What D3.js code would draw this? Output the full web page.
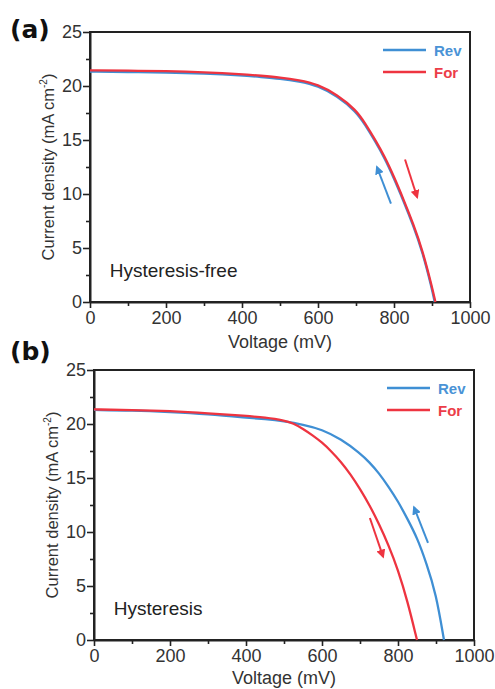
<!DOCTYPE html>
<html>
<head>
<meta charset="utf-8">
<script src="https://cdn.jsdelivr.net/npm/d3@7"></script>
<style>
  body { margin: 0; background: #fff; }
  text { font-family: "Liberation Sans", Arial, sans-serif; }
</style>
</head>
<body>
<script>
// ---- data ----
var voltageA = [0, 100, 200, 300, 400, 450, 500, 550, 600, 650, 700, 725, 750, 775, 800, 825, 850, 875, 900];
var revA = [21.33, 21.3, 21.26, 21.16, 20.98, 20.83, 20.68, 20.43, 20.02, 19.07, 17.65, 16.35, 14.9, 13.35, 11.45, 9.35, 7.15, 4.65, 1.2];
var forA = [21.45, 21.42, 21.38, 21.28, 21.1, 20.95, 20.8, 20.55, 20.15, 19.2, 17.8, 16.5, 15.05, 13.5, 11.6, 9.5, 7.3, 4.8, 1.4];
var vocA = [907, 909];

var voltageBRev = [0, 100, 200, 300, 400, 450, 500, 550, 600, 650, 700, 725, 750, 775, 800, 825, 850, 875, 900, 921];
var revB = [21.3, 21.25, 21.1, 20.9, 20.6, 20.45, 20.25, 19.95, 19.5, 18.6, 17.3, 16.45, 15.45, 14.2, 12.85, 11.2, 9.5, 7.1, 4.3, 0];
var voltageBFor = [0, 100, 200, 300, 400, 450, 500, 525, 550, 575, 600, 625, 650, 675, 700, 725, 750, 775, 800, 825, 850];
var forB = [21.35, 21.3, 21.2, 21.0, 20.75, 20.6, 20.35, 20.05, 19.55, 18.95, 18.3, 17.45, 16.5, 15.35, 14.0, 12.5, 10.75, 8.8, 6.5, 3.6, 0];

var xTicks = [0, 200, 400, 600, 800, 1000];
var xMinor = [100, 300, 500, 700, 900];
var yTicks = [0, 5, 10, 15, 20, 25];
var yMinor = [2.5, 7.5, 12.5, 17.5, 22.5];
var seriesNames = ["Rev", "For"];

// scan-direction arrows, [x1, y1, x2, y2] in mV / mA cm-2
var arrowsA = [[792, 9.1, 755, 12.5], [829, 13.2, 861, 9.7]];
var arrowsB = [[879, 9.0, 842, 12.3], [726, 11.3, 761, 7.7]];

var blue = "#3f8fd4", red = "#ee3440";

var svg = d3.select("body").append("svg")
  .attr("width", 495)
  .attr("height", 689);

var defs = svg.append("defs");
[["arrBlue", blue], ["arrRed", red]].forEach(function(m) {
  defs.append("marker")
    .attr("id", m[0])
    .attr("viewBox", "0 0 10 10")
    .attr("refX", 8).attr("refY", 5)
    .attr("markerWidth", 9).attr("markerHeight", 9)
    .attr("markerUnits", "userSpaceOnUse")
    .attr("orient", "auto")
    .append("path")
    .attr("d", "M0,0 L10,5 L0,10 z")
    .attr("fill", m[1]);
});

function panel(cfg) {
  var w = 380, h = 270;
  var x = d3.scaleLinear().domain([0, 1000]).range([cfg.left, cfg.left + w]);
  var y = d3.scaleLinear().domain([0, 25]).range([cfg.top + h, cfg.top]);
  var g = svg.append("g");

  // frame
  g.append("rect")
    .attr("x", cfg.left).attr("y", cfg.top)
    .attr("width", w).attr("height", h)
    .attr("fill", "none").attr("stroke", "#222").attr("stroke-width", 2);

  // axes
  g.append("g").attr("transform", "translate(0," + (cfg.top + h) + ")")
    .call(d3.axisBottom(x).tickValues(xTicks).tickFormat(d3.format("d"))
      .tickSize(6).tickSizeOuter(0).tickPadding(3));
  g.append("g").attr("transform", "translate(0," + (cfg.top + h) + ")")
    .call(d3.axisBottom(x).tickValues(xMinor).tickSize(4).tickFormat(""))
    .select(".domain").remove();
  g.append("g").attr("transform", "translate(" + cfg.left + ",0)")
    .call(d3.axisLeft(y).tickValues(yTicks).tickSize(7).tickSizeOuter(0).tickPadding(1));
  g.append("g").attr("transform", "translate(" + cfg.left + ",0)")
    .call(d3.axisLeft(y).tickValues(yMinor).tickSize(4).tickFormat(""))
    .select(".domain").remove();

  g.selectAll(".domain").attr("stroke", "#222").attr("stroke-width", 2);
  g.selectAll(".tick line").attr("stroke", "#222").attr("stroke-width", 1.6);
  g.selectAll(".tick text")
    .attr("fill", "#333")
    .style("font-size", "18px")
    .style("font-family", "'Liberation Sans', Arial, sans-serif");

  // axis titles
  g.append("text")
    .attr("x", x(500)).attr("y", cfg.xLabelY)
    .attr("text-anchor", "middle")
    .attr("fill", "#333")
    .style("font-size", "18px")
    .text("Voltage (mV)");

  var yl = g.append("text")
    .attr("transform", "translate(" + (cfg.left - 36) + "," + y(12.5) + ")rotate(-90)")
    .attr("text-anchor", "middle")
    .attr("fill", "#333")
    .style("font-size", "16.5px");
  yl.append("tspan").text("Current density (mA cm");
  yl.append("tspan").attr("dy", -7).style("font-size", "10px").text("-2");
  yl.append("tspan").attr("dy", 7).text(")");

  // panel tag
  g.append("text")
    .attr("x", 10).attr("y", cfg.tagY)
    .attr("fill", "#111")
    .style("font-size", "25px")
    .style("font-weight", "bold")
    .style("font-family", "'DejaVu Sans', sans-serif")
    .text(cfg.tag);

  // note
  g.append("text")
    .attr("x", x(52)).attr("y", y(2.3))
    .attr("fill", "#222")
    .style("font-size", "19px")
    .text(cfg.note);

  // curves
  var line = d3.line()
    .x(function(d) { return x(d[0]); })
    .y(function(d) { return y(d[1]); })
    .curve(d3.curveBasis);

  g.append("path")
    .datum(d3.zip(cfg.revV, cfg.rev))
    .attr("d", line)
    .attr("fill", "none").attr("stroke", blue).attr("stroke-width", 2.3);
  g.append("path")
    .datum(d3.zip(cfg.forV, cfg.fwd))
    .attr("d", line)
    .attr("fill", "none").attr("stroke", red).attr("stroke-width", 2.3);

  // arrows
  g.selectAll(".arrow")
    .data(cfg.arrows)
    .enter().append("line")
    .attr("class", "arrow")
    .attr("x1", function(d) { return x(d[0]); })
    .attr("y1", function(d) { return y(d[1]); })
    .attr("x2", function(d) { return x(d[2]); })
    .attr("y2", function(d) { return y(d[3]); })
    .attr("stroke", function(d, i) { return i === 0 ? blue : red; })
    .attr("stroke-width", 2)
    .attr("marker-end", function(d, i) { return i === 0 ? "url(#arrBlue)" : "url(#arrRed)"; });

  // legend
  var lg = g.selectAll(".leg")
    .data(seriesNames)
    .enter().append("g")
    .attr("class", "leg")
    .attr("transform", function(d, i) {
      return "translate(" + (cfg.left + w - 87) + "," + (cfg.top + 18 + i * 22) + ")";
    });
  lg.append("line")
    .attr("x1", 0).attr("x2", 43)
    .attr("stroke", function(d, i) { return i === 0 ? blue : red; })
    .attr("stroke-width", 2.3);
  lg.append("text")
    .attr("x", 51).attr("y", 5.5)
    .attr("fill", function(d, i) { return i === 0 ? "#4a93d6" : "#ec3d48"; })
    .style("font-size", "15px")
    .style("font-weight", "bold")
    .text(function(d) { return d; });
}

panel({
  left: 90, top: 32, tag: "(a)", tagY: 38, xLabelY: 348,
  note: "Hysteresis-free",
  revV: voltageA.concat([vocA[0]]), rev: revA.concat([0]),
  forV: voltageA.concat([vocA[1]]), fwd: forA.concat([0]),
  arrows: arrowsA
});

panel({
  left: 94, top: 370, tag: "(b)", tagY: 360, xLabelY: 684,
  note: "Hysteresis",
  revV: voltageBRev, rev: revB, forV: voltageBFor, fwd: forB, arrows: arrowsB
});
</script>
</body>
</html>
